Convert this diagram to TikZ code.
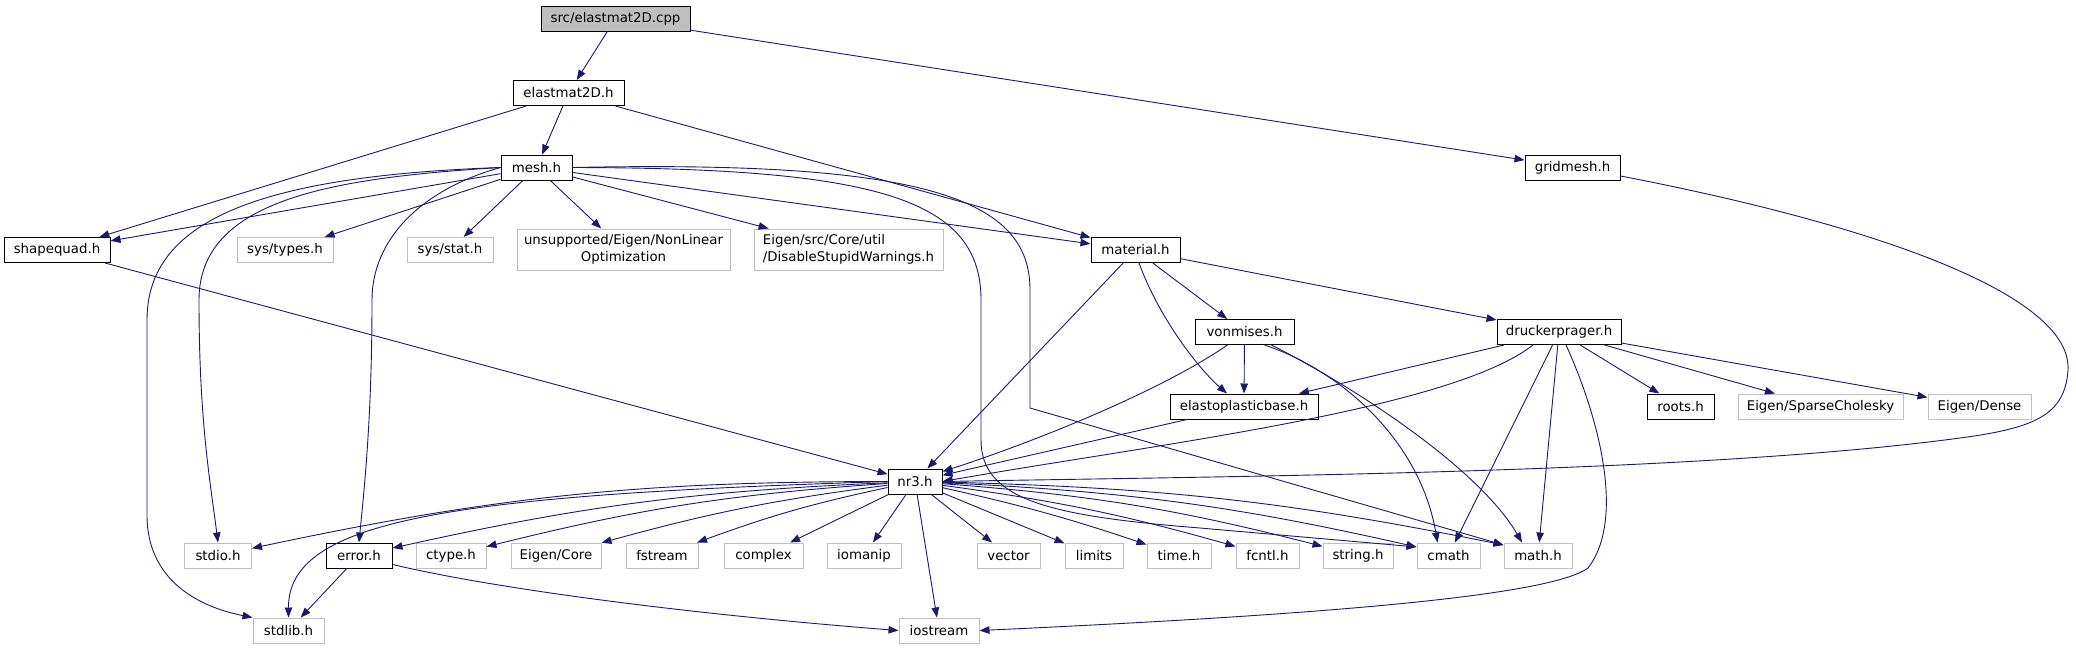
\documentclass[tikz,border=0pt]{standalone}
\usepackage{fontspec}
\setmainfont{DejaVu Sans}
\usetikzlibrary{arrows.meta}
\definecolor{edgecol}{HTML}{191970}
\definecolor{sysgray}{HTML}{BFBFBF}
\begin{document}
\begin{tikzpicture}[x=1pt,y=-1pt,
  box/.style={draw=black, line width=1pt, fill=white, inner sep=0pt, minimum height=25pt,
    font=\fontsize{13.33}{16.5}\selectfont},
  sys/.style={box, draw=sysgray},
  cur/.style={box, fill=sysgray},
  dep/.style={draw=edgecol, line width=0.9pt, -{Triangle[length=10pt,width=7.5pt]}, fill=none}
]
\useasboundingbox (0,0) rectangle (2076,649);

% nodes
\node[cur, minimum width=149pt] (cpp) at (615.5,18.5) {src/elastmat2D.cpp};
\node[box, minimum width=111pt] (e2d) at (568.5,93) {elastmat2D.h};
\node[box, minimum width=71pt] (mesh) at (536.5,167.5) {mesh.h};
\node[box, minimum width=95pt] (grid) at (1572.5,167.5) {gridmesh.h};
\node[box, minimum width=106pt] (sq) at (57,250) {shapequad.h};
\node[sys, minimum width=96pt] (stypes) at (285,250) {sys/types.h};
\node[sys, minimum width=86pt] (sstat) at (450,250) {sys/stat.h};
\node[sys, minimum width=213pt, minimum height=41pt, align=center] (nlo) at (623.5,249.5) {unsupported/Eigen/NonLinear\\Optimization};
\node[sys, minimum width=189pt, minimum height=41pt, align=left] (dsw) at (848.5,249.5) {Eigen/src/Core/util\\/DisableStupidWarnings.h};
\node[box, minimum width=89pt] (mat) at (1135.5,250) {material.h};
\node[box, minimum width=99pt] (von) at (1244.5,332) {vonmises.h};
\node[box, minimum width=124pt] (dp) at (1559,332) {druckerprager.h};
\node[box, minimum width=148pt] (epb) at (1244,406.5) {elastoplasticbase.h};
\node[box, minimum width=67pt] (roots) at (1680.5,406.5) {roots.h};
\node[sys, minimum width=165pt] (spc) at (1820.5,406.5) {Eigen/SparseCholesky};
\node[sys, minimum width=103pt] (dense) at (1979.5,406.5) {Eigen/Dense};
\node[box, minimum width=54pt] (nr3) at (915,481.5) {nr3.h};
\node[sys, minimum width=67pt] (stdio) at (218,555.5) {stdio.h};
\node[box, minimum width=66pt] (err) at (359,555.5) {error.h};
\node[sys, minimum width=70pt] (ctype) at (451,555.5) {ctype.h};
\node[sys, minimum width=90pt] (ecore) at (556,555.5) {Eigen/Core};
\node[sys, minimum width=72pt] (fstream) at (662,555.5) {fstream};
\node[sys, minimum width=79pt] (complex) at (763.5,555.5) {complex};
\node[sys, minimum width=74pt] (iomanip) at (864,555.5) {iomanip};
\node[sys, minimum width=63pt] (vector) at (1008.5,555.5) {vector};
\node[sys, minimum width=58pt] (limits) at (1094,555.5) {limits};
\node[sys, minimum width=64pt] (timeh) at (1179,555.5) {time.h};
\node[sys, minimum width=63pt] (fcntl) at (1267.5,555.5) {fcntl.h};
\node[sys, minimum width=70pt] (stringh) at (1358,555.5) {string.h};
\node[sys, minimum width=63pt] (cmath) at (1448.5,555.5) {cmath};
\node[sys, minimum width=68pt] (math) at (1538,555.5) {math.h};
\node[sys, minimum width=71pt] (stdlib) at (288.5,630.5) {stdlib.h};
\node[sys, minimum width=80pt] (iostream) at (939,630.5) {iostream};

% edges from src/elastmat2D.cpp
\draw[dep] (cpp) -- (e2d);
\draw[dep] (cpp) -- (grid);
% elastmat2D.h
\draw[dep] (e2d) -- (mesh);
\draw[dep] (e2d) -- (sq);
\draw[dep] (e2d) -- (mat);
% mesh.h
\draw[dep] (mesh) -- (sq);
\draw[dep] (mesh) -- (stypes);
\draw[dep] (mesh) -- (sstat);
\draw[dep] (mesh) -- (nlo);
\draw[dep] (mesh) -- (dsw);
\draw[dep] (mesh) -- (mat);
\draw[dep] (mesh.west) .. controls (260,176) and (147,220) .. (147,320) -- (147,515) .. controls (147,578) and (195,606) .. (stdlib.north west);
\draw[dep] (mesh.west) .. controls (330,178) and (199,200) .. (199,300) .. controls (199,420) and (210,480) .. (stdio.north);
\draw[dep] (mesh.west) .. controls (420,190) and (372,240) .. (372,300) .. controls (372,420) and (364,490) .. (err.north);
\draw[dep] (mesh.east) .. controls (880,168) and (981,200) .. (981,300) -- (981,440) .. controls (981,500) and (1050,516) .. (1200,528) -- (cmath.165);
\draw[dep] (mesh.east) .. controls (930,160) and (1030,200) .. (1030,290) -- (1030,408) -- (math.163);
% material.h
\draw[dep] (mat) -- (von);
\draw[dep] (mat) -- (dp);
\draw[dep] (mat.-75) .. controls (1160,320) and (1200,370) .. ([xshift=-17pt]epb.north);
\draw[dep] (mat) -- (nr3);
% vonmises.h
\draw[dep] (von) -- (epb);
\draw[dep] ([xshift=-17pt]von.south) .. controls (1150,398) and (1010,450) .. (nr3.20);
\draw[dep] ([xshift=20pt]von.south) .. controls (1340,370) and (1420,440) .. ([xshift=-11pt]cmath.north);
\draw[dep] ([xshift=27pt]von.south) .. controls (1360,390) and (1480,470) .. ([xshift=-16pt]math.north);
% druckerprager.h
\draw[dep] (dp) -- (epb);
\draw[dep] ([xshift=-26pt]dp.south) .. controls (1450,410) and (1150,445) .. (nr3.east);
\draw[dep] (dp) -- (roots);
\draw[dep] (dp) -- (spc);
\draw[dep] (dp) -- (dense);
\draw[dep] (dp) -- (cmath);
\draw[dep] (dp) -- (math);
\draw[dep] ([xshift=7pt]dp.south) .. controls (1600,420) and (1625,520) .. (1588,568) .. controls (1545,600) and (1250,618) .. (iostream.east);
% elastoplasticbase.h, shapequad.h, gridmesh.h
\draw[dep] (epb) -- (nr3);
\draw[dep] (sq) -- (nr3);
\draw[dep] (grid.-10) .. controls (1900,230) and (2072,300) .. (2068,370) .. controls (2065,415) and (2035,428) .. (1960,438) .. controls (1700,473) and (1250,476) .. (nr3.east);
% nr3.h
\draw[dep] (nr3.west) .. controls (450,495) and (288,520) .. (stdlib.north);
\draw[dep] (nr3) to[bend right=6] (stdio);
\draw[dep] (nr3) to[bend right=5] (err);
\draw[dep] (nr3) to[bend right=5] (ctype);
\draw[dep] (nr3) to[bend right=4] (ecore);
\draw[dep] (nr3) to[bend right=4] (fstream);
\draw[dep] (nr3) -- (complex);
\draw[dep] (nr3) -- (iomanip);
\draw[dep] (nr3) -- (iostream);
\draw[dep] (nr3) -- (vector);
\draw[dep] (nr3) -- (limits);
\draw[dep] (nr3) to[bend left=3] (timeh);
\draw[dep] (nr3) to[bend left=4] (fcntl);
\draw[dep] (nr3) to[bend left=5] (stringh);
\draw[dep] (nr3) to[bend left=5] (cmath.165);
\draw[dep] (nr3) to[bend left=5] (math.163);
% error.h
\draw[dep] (err) -- (stdlib);
\draw[dep] (err.-15) .. controls (500,590) and (700,615) .. (iostream.west);
\end{tikzpicture}
\end{document}
